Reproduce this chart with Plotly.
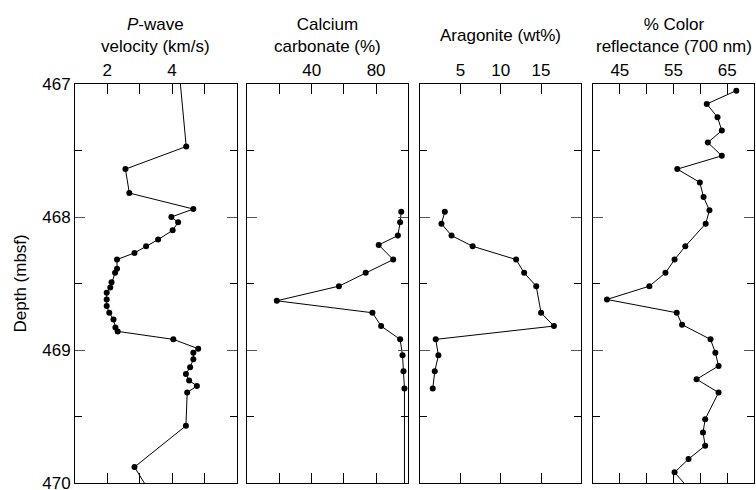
import plotly.graph_objects as go
from plotly.subplots import make_subplots

# P-wave velocity (km/s)
pw_depth = [466.9, 467.47, 467.64, 467.82, 467.94, 468.00, 468.04, 468.10, 468.17, 468.22,
            468.27, 468.32, 468.39, 468.42, 468.49, 468.53, 468.57, 468.62, 468.67, 468.72,
            468.77, 468.83, 468.86, 468.92, 468.99, 469.02, 469.07, 469.13, 469.18, 469.23,
            469.27, 469.32, 469.57, 469.88, 470.05]
pw_vel = [4.22, 4.44, 2.56, 2.68, 4.66, 3.98, 4.19, 4.02, 3.57, 3.20,
          2.84, 2.30, 2.30, 2.24, 2.13, 2.09, 1.98, 1.98, 1.98, 2.06,
          2.19, 2.25, 2.32, 4.04, 4.81, 4.66, 4.66, 4.56, 4.43, 4.53,
          4.77, 4.47, 4.43, 2.84, 3.27]

# Calcium carbonate (%)
cc_depth = [467.96, 468.04, 468.14, 468.21, 468.32, 468.42, 468.52, 468.63, 468.72, 468.82,
            468.92, 469.04, 469.16, 469.29, 470.5]
cc_val = [95.6, 94.9, 93.5, 81.6, 90.6, 73.5, 56.9, 18.3, 77.7, 83.1,
          94.9, 96.4, 97.0, 97.6, 97.6]

# Aragonite (wt%)
ar_depth = [467.96, 468.05, 468.14, 468.22, 468.32, 468.42, 468.52, 468.72, 468.82, 468.92,
            469.04, 469.16, 469.29]
ar_val = [3.05, 2.63, 3.88, 6.5, 11.9, 12.9, 14.4, 15.0, 16.6, 1.92,
          2.25, 1.8, 1.55]

# % Color reflectance (700 nm)
cr_depth = [467.05, 467.15, 467.25, 467.35, 467.44, 467.54, 467.64, 467.74, 467.85, 467.95,
            468.05, 468.22, 468.32, 468.42, 468.52, 468.62, 468.72, 468.81, 468.92, 469.02,
            469.12, 469.22, 469.32, 469.52, 469.62, 469.72, 469.82, 469.92, 470.03]
cr_val = [66.7, 61.2, 63.2, 64.0, 61.4, 64.0, 55.7, 59.9, 60.6, 61.7,
          61.0, 57.2, 55.2, 53.5, 50.5, 42.6, 55.6, 56.6, 61.9, 62.8,
          63.4, 59.3, 63.4, 60.9, 60.5, 60.9, 57.8, 55.2, 57.6]

titles = ["<i>P</i>-wave<br>velocity (km/s)", "Calcium<br>carbonate (%)",
          "Aragonite (wt%)", "% Color<br>reflectance (700 nm)"]
x_ranges = [[1, 6], [0, 100], [0, 20], [40, 70]]
x_label_vals = [[2, 4], [40, 80], [5, 10, 15], [45, 55, 65]]
x_minor_vals = [[3, 5], [20, 60], [], [50, 60]]
y_label_vals = [467, 468, 469, 470]

series = [(pw_vel, pw_depth), (cc_val, cc_depth), (ar_val, ar_depth), (cr_val, cr_depth)]

FONT = "Liberation Sans, Arial, Helvetica, sans-serif"
fig = make_subplots(rows=1, cols=4, shared_yaxes=True, horizontal_spacing=0.015)

W, H = 756, 490
ML, MR, MT, MB = 75, 2, 84, 7
PH = H - MT - MB

domains = [[0.0, 0.2381], [0.2538, 0.4909], [0.5085, 0.7457], [0.7629, 1.0]]

for i, (xv, yv) in enumerate(series):
    fig.add_trace(go.Scatter(x=xv, y=yv, mode="lines+markers",
                             line=dict(color="black", width=1),
                             marker=dict(color="black", size=6),
                             showlegend=False), row=1, col=i + 1)
    fig.update_xaxes(row=1, col=i + 1, domain=domains[i], range=x_ranges[i], side="top",
                     tickmode="array", tickvals=x_label_vals[i],
                     ticks="inside", ticklen=10, tickwidth=1, tickcolor="black",
                     minor=dict(tickmode="array", tickvals=x_minor_vals[i], ticks="inside",
                                ticklen=10, tickwidth=1, tickcolor="black"),
                     showline=True, linecolor="black", linewidth=1, mirror="ticks",
                     showgrid=False, zeroline=False, ticklabeloverflow="allow",
                     tickfont=dict(size=17, family=FONT, color="black"))
    fig.update_yaxes(row=1, col=i + 1, range=[470, 467], tickmode="array",
                     tickvals=y_label_vals, ticks="inside", ticklen=10, tickwidth=1,
                     tickcolor="#555",
                     minor=dict(tickmode="array", tickvals=[467.5, 468.5, 469.5],
                                ticks="inside", ticklen=7, tickwidth=1, tickcolor="black"),
                     showline=True, linecolor="black", linewidth=1, mirror="ticks",
                     showgrid=False, zeroline=False, showticklabels=(i == 0),
                     ticklabeloverflow="allow",
                     tickfont=dict(size=17, family=FONT, color="black"))
    cx = (domains[i][0] + domains[i][1]) / 2
    fig.add_annotation(x=cx, y=(PH + MT - 35) / PH, xref="paper", yref="paper",
                       text=titles[i], showarrow=False, xanchor="center", yanchor="middle",
                       font=dict(size=17, family=FONT, color="black"))

fig.add_annotation(x=-0.081, y=0.5, xref="paper", yref="paper", text="Depth (mbsf)",
                   textangle=-90, showarrow=False, xanchor="center", yanchor="middle",
                   font=dict(size=17, family=FONT, color="black"))

fig.update_layout(width=W, height=H, margin=dict(l=ML, r=MR, t=MT, b=MB, autoexpand=False),
                  plot_bgcolor="white", paper_bgcolor="white",
                  font=dict(family=FONT, size=17, color="black"))

fig.write_html("out.html", config={"displayModeBar": False},
               post_script="document.body.style.margin='0px';"
                           "document.body.style.overflow='hidden';")
